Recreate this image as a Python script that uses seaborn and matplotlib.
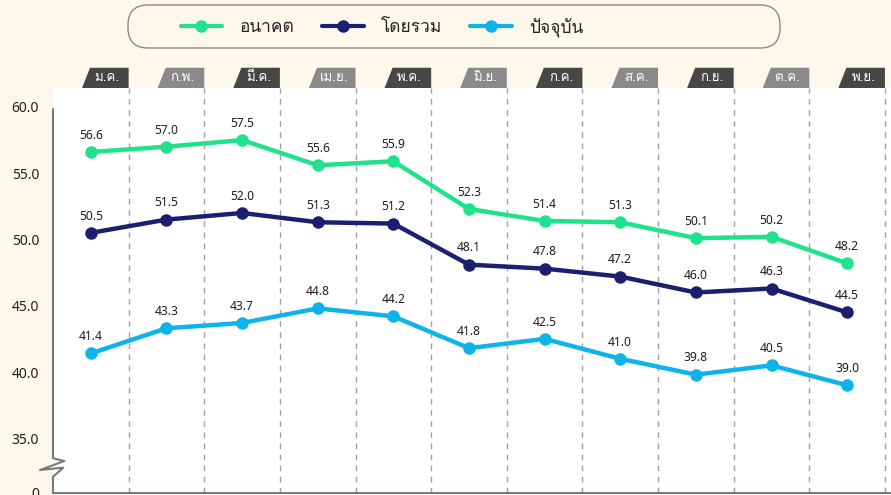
import numpy as np
import pandas as pd
import matplotlib
matplotlib.use('Agg')
import matplotlib.pyplot as plt
import seaborn as sns
from matplotlib import font_manager
from matplotlib.ft2font import FT2Font
from matplotlib.lines import Line2D
from matplotlib.patches import Polygon, FancyBboxPatch
from matplotlib.transforms import blended_transform_factory

# ข้อมูล
months = ['ม.ค.', 'ก.พ.', 'มี.ค.', 'เม.ย.', 'พ.ค.', 'มิ.ย.', 'ก.ค.', 'ส.ค.', 'ก.ย.', 'ต.ค.', 'พ.ย.']
series_names = ['อนาคต', 'โดยรวม', 'ปัจจุบัน']
future = [56.6, 57.0, 57.5, 55.6, 55.9, 52.3, 51.4, 51.3, 50.1, 50.2, 48.2]
overall = [50.5, 51.5, 52.0, 51.3, 51.2, 48.1, 47.8, 47.2, 46.0, 46.3, 44.5]
current = [41.4, 43.3, 43.7, 44.8, 44.2, 41.8, 42.5, 41.0, 39.8, 40.5, 39.0]
y_ticks = [35, 40, 45, 50, 55, 60]

colors = ['#1FE28B', '#1A1F70', '#0DB3E9']
tab_colors = ['#474747', '#8A8A8A']
bg = '#FDF8EB'


# หาฟอนต์ที่มีอักษรไทย
def find_thai_font():
    for f in font_manager.fontManager.ttflist:
        try:
            if 0x0E01 in FT2Font(f.fname).get_charmap():
                return f.name
        except Exception:
            pass
    return 'DejaVu Sans'


thai = find_thai_font()
sns.set_style('white')
plt.rcParams['font.family'] = [thai, 'DejaVu Sans']

df = pd.DataFrame({
    'idx': list(range(len(months))) * 3,
    'value': future + overall + current,
    'series': np.repeat(series_names, len(months)),
})

fig = plt.figure(figsize=(8.91, 4.95), dpi=100, facecolor=bg)
ax = fig.add_axes([53 / 891, 2 / 495, 838 / 891, 405 / 495])
ax.set_facecolor('white')

sns.lineplot(data=df, x='idx', y='value', hue='series', palette=colors,
             marker='o', markersize=9, markeredgewidth=0, linewidth=3.2,
             legend=False, ax=ax, zorder=3)

# ป้ายค่า
for vals in [future, overall, current]:
    for i, v in enumerate(vals):
        ax.annotate(f'{v:.1f}', (i, v), xytext=(0, 12), textcoords='offset points',
                    ha='center', va='center', fontsize=8.7, color='#1E1E1E',
                    family=['Noto Sans', 'DejaVu Sans'])

y_bottom = 30.87
ax.set_xlim(-0.5, 10.58)
ax.set_ylim(y_bottom, 61.43)
ax.set_xlabel('')
ax.set_ylabel('')
ax.set_xticks([])
ax.set_yticks([y_bottom] + y_ticks)
ax.set_yticklabels(['0'] + [f'{t:.1f}' for t in y_ticks],
                   family=['Noto Sans', 'DejaVu Sans'])
ax.tick_params(axis='y', length=0, pad=10, labelsize=10, labelcolor='#222222')

# เส้นประแบ่งเดือน
for i in range(len(months)):
    ax.axvline(i + 0.5, color='#A0A0A0', lw=1, ls=(0, (4, 4)), zorder=1)

for s in ['top', 'right', 'left']:
    ax.spines[s].set_visible(False)
ax.spines['bottom'].set_color('#7A7A7A')
ax.spines['bottom'].set_linewidth(1.5)

# แกน y พร้อมรอยหัก
axis_x = [0, 0, 0.0135, -0.0155, 0.0123, 0, 0]
axis_y = [0.948, 0.0857, 0.079, 0.0568, 0.0625, 0.0402, 0]
ax.add_line(Line2D(axis_x, axis_y, transform=ax.transAxes, color='#7A7A7A',
                   lw=1.5, clip_on=False, zorder=5))

# แถบชื่อเดือน
trans = blended_transform_factory(ax.transData, ax.transAxes)
for i, m in enumerate(months):
    xr = i + 0.5
    poly = Polygon([(xr - 0.616, 1.0), (xr - 0.51, 1.05), (xr, 1.05), (xr, 1.0)],
                   closed=True, transform=trans, clip_on=False,
                   facecolor=tab_colors[i % 2], edgecolor='none')
    ax.add_patch(poly)
    ax.text(xr - 0.285, 1.025, m, transform=trans, ha='center', va='center',
            color='white', fontsize=9.5)

# กล่องคำอธิบาย (หน่วยนิ้ว)
box = FancyBboxPatch((1.28, 4.47), 6.52, 0.43,
                     boxstyle='round,pad=0,rounding_size=0.2',
                     transform=fig.dpi_scale_trans, facecolor=bg,
                     edgecolor='#8A8A8A', lw=1)
fig.patches.append(box)
handles = [Line2D([], [], color=c, lw=3, marker='o', markersize=8) for c in colors]
fig.legend(handles, series_names, loc='center', bbox_to_anchor=(382 / 891, 1 - 27 / 495),
           ncol=3, frameon=False, fontsize=12.5, handlelength=2.4, handletextpad=1.0,
           columnspacing=1.6)

fig.savefig('out.png', dpi=100, facecolor=bg)
